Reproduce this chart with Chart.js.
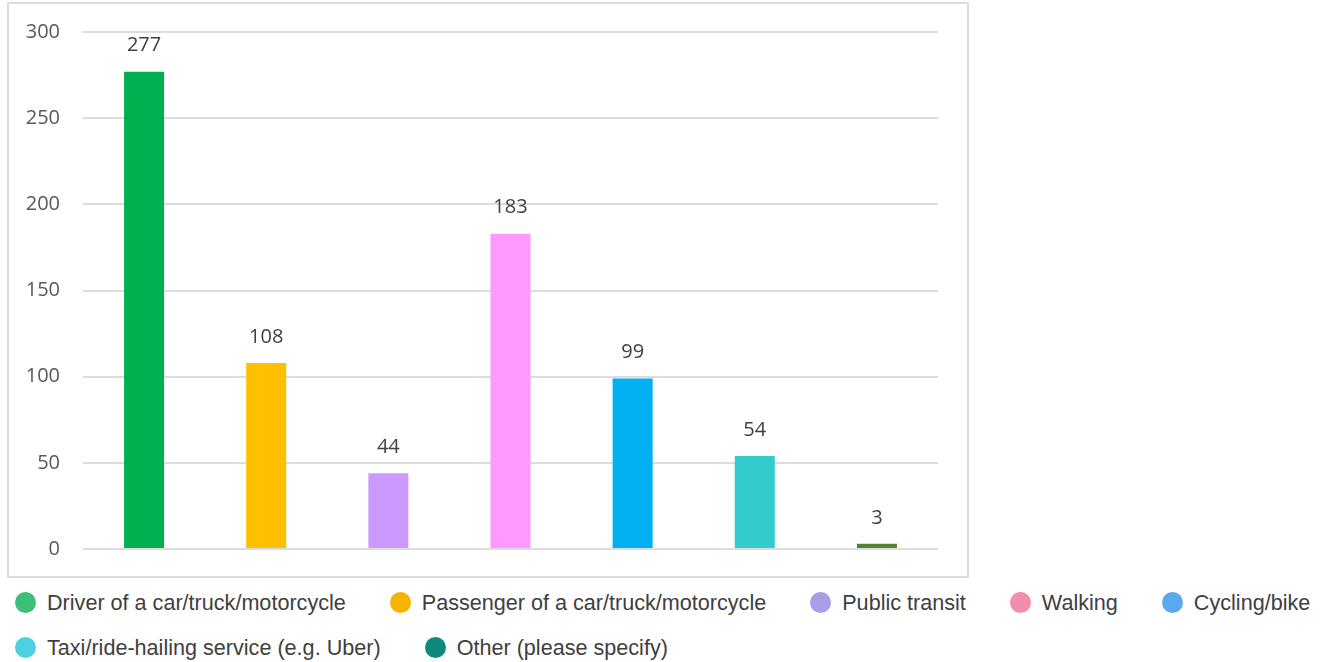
<!DOCTYPE html>
<html>
<head>
<meta charset="utf-8">
<script src="https://cdn.jsdelivr.net/npm/chart.js@4.4.1/dist/chart.umd.min.js"></script>
<style>
  body { margin: 0; background: #fff; width: 1328px; height: 662px; overflow: hidden; position: relative; }
  #wrap { position: absolute; left: 0; top: 0; width: 980px; height: 580px; }
  #legend { position: absolute; left: 15px; top: 580px; width: 1370px; display: flex; flex-wrap: wrap;
    font-family: "Liberation Sans", Arial, sans-serif; font-size: 21.6px; color: #404040; }
  .item { display: flex; align-items: center; height: 45px; margin-right: 44px; }
  .dot { width: 21px; height: 21px; border-radius: 50%; margin-right: 11px; }
</style>
</head>
<body>
<div id="wrap"><canvas id="chart" width="980" height="580"></canvas></div>
<div id="legend"></div>
<script>
const categories = [
  "Driver of a car/truck/motorcycle",
  "Passenger of a car/truck/motorcycle",
  "Public transit",
  "Walking",
  "Cycling/bike",
  "Taxi/ride-hailing service (e.g. Uber)",
  "Other (please specify)"
];
const counts = [277, 108, 44, 183, 99, 54, 3];
const barColors = ["#00b050", "#ffc000", "#cc99ff", "#ff99ff", "#00b0f0", "#33cccc", "#538135"];
const legendColors = ["#3dbf7a", "#f4b400", "#a99de6", "#f28dab", "#5aa9ef", "#4dd0e1", "#11897a"];
const yTicks = [0, 50, 100, 150, 200, 250, 300];

// border box around plot + value labels over the bars
const extras = {
  id: "extras",
  beforeDraw(chart) {
    const ctx = chart.ctx;
    ctx.save();
    ctx.strokeStyle = "#dcdcdc";
    ctx.lineWidth = 2;
    ctx.strokeRect(8, 3, 960, 574);
    ctx.restore();
  },
  afterDatasetsDraw(chart) {
    const ctx = chart.ctx;
    const meta = chart.getDatasetMeta(0);
    ctx.save();
    ctx.font = '20px "Open Sans"';
    ctx.fillStyle = "#404040";
    ctx.textAlign = "center";
    ctx.textBaseline = "middle";
    meta.data.forEach((bar, i) => {
      ctx.fillText(String(counts[i]), bar.x, bar.y - 26);
    });
    ctx.restore();
  }
};

new Chart(document.getElementById("chart"), {
  type: "bar",
  data: {
    labels: categories,
    datasets: [{
      data: counts,
      backgroundColor: barColors,
      barPercentage: 0.3275,
      categoryPercentage: 1
    }]
  },
  options: {
    responsive: false,
    animation: false,
    layout: { padding: { left: 0, top: 32, right: 42, bottom: 31 } },
    plugins: { legend: { display: false }, tooltip: { enabled: false } },
    scales: {
      x: {
        ticks: { display: false },
        grid: { display: false },
        border: { display: false },
        afterFit: (s) => { s.height = 0; }
      },
      y: {
        min: 0,
        max: 300,
        afterBuildTicks: (s) => { s.ticks = yTicks.map((v) => ({ value: v })); },
        ticks: { color: "#595959", font: { family: "Open Sans", size: 20 }, padding: 0 },
        grid: { color: "#dcdcdc", lineWidth: 2, tickLength: 23, tickColor: "rgba(0,0,0,0)" },
        border: { display: false },
        afterFit: (s) => { s.width = 83; }
      }
    }
  },
  plugins: [extras]
});

const legend = document.getElementById("legend");
categories.forEach((name, i) => {
  const item = document.createElement("div");
  item.className = "item";
  const dot = document.createElement("span");
  dot.className = "dot";
  dot.style.background = legendColors[i];
  const label = document.createElement("span");
  label.textContent = name;
  item.appendChild(dot);
  item.appendChild(label);
  legend.appendChild(item);
});
</script>
</body>
</html>
